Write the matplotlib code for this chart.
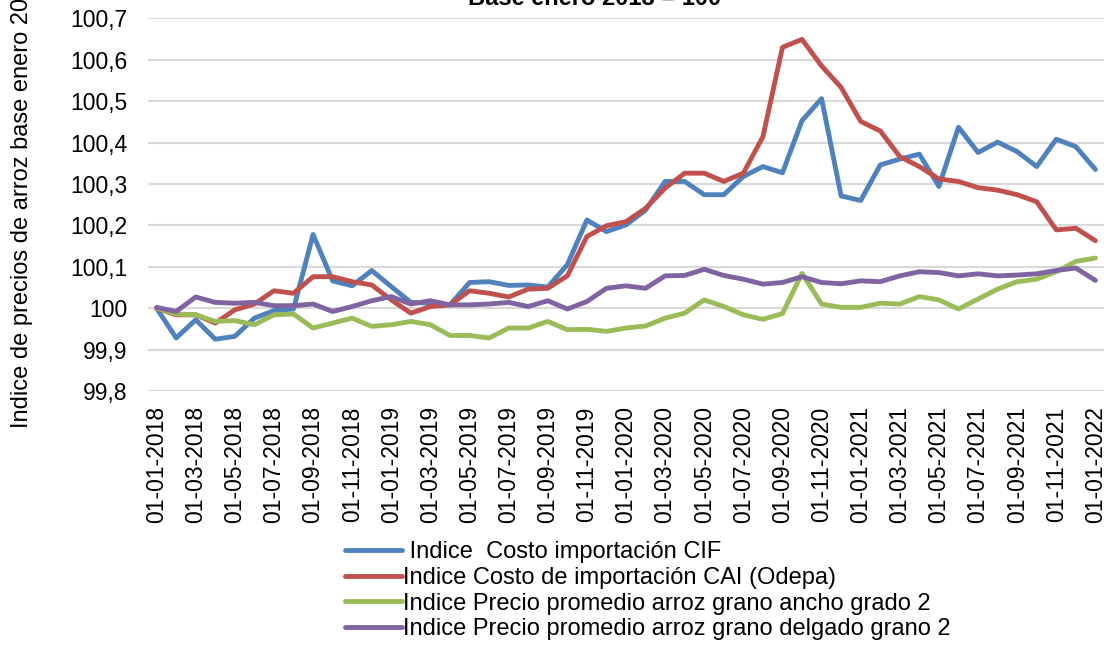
import numpy as np
import matplotlib.pyplot as plt

plt.rcParams['font.family'] = ['Liberation Sans', 'DejaVu Sans']

# monthly dates, Jan 2018 .. Jan 2022
fechas = ["01-%02d-%d" % (m, y) for y in range(2018, 2023) for m in range(1, 13)][:49]

cif = [100.000, 99.928, 99.972, 99.925, 99.932, 99.976, 99.994, 99.998, 100.178, 100.066,
       100.054, 100.091, 100.052, 100.014, 100.012, 100.008, 100.062, 100.064, 100.055, 100.056,
       100.051, 100.105, 100.213, 100.185, 100.201, 100.237, 100.306, 100.306, 100.274, 100.274,
       100.318, 100.342, 100.327, 100.453, 100.506, 100.271, 100.260, 100.346, 100.360, 100.372,
       100.294, 100.437, 100.376, 100.401, 100.378, 100.342, 100.408, 100.390, 100.335]

cai = [100.000, 99.984, 99.984, 99.964, 99.996, 100.010, 100.042, 100.036, 100.076, 100.076,
       100.064, 100.056, 100.020, 99.988, 100.004, 100.008, 100.042, 100.036, 100.027, 100.046,
       100.048, 100.078, 100.173, 100.199, 100.209, 100.241, 100.290, 100.326, 100.326, 100.306,
       100.326, 100.414, 100.630, 100.649, 100.585, 100.533, 100.451, 100.428, 100.366, 100.342,
       100.312, 100.306, 100.291, 100.285, 100.274, 100.257, 100.189, 100.193, 100.163]

ancho = [100.000, 99.986, 99.984, 99.968, 99.970, 99.960, 99.984, 99.986, 99.952, 99.964,
         99.976, 99.956, 99.960, 99.968, 99.960, 99.934, 99.934, 99.928, 99.952, 99.952,
         99.968, 99.948, 99.949, 99.944, 99.952, 99.957, 99.976, 99.988, 100.020, 100.004,
         99.984, 99.973, 99.987, 100.084, 100.010, 100.002, 100.002, 100.012, 100.010, 100.028,
         100.020, 99.998, 100.022, 100.046, 100.064, 100.070, 100.088, 100.113, 100.121]

delgado = [100.002, 99.992, 100.027, 100.014, 100.012, 100.014, 100.006, 100.006, 100.010, 99.992,
           100.004, 100.018, 100.028, 100.010, 100.018, 100.008, 100.008, 100.010, 100.014, 100.004,
           100.018, 99.998, 100.016, 100.048, 100.054, 100.048, 100.078, 100.079, 100.094, 100.079,
           100.070, 100.058, 100.062, 100.076, 100.062, 100.059, 100.066, 100.064, 100.078, 100.088,
           100.086, 100.078, 100.083, 100.078, 100.080, 100.083, 100.091, 100.097, 100.067]

etiquetas = [" Indice  Costo importación CIF",
             "Indice Costo de importación CAI (Odepa)",
             "Indice Precio promedio arroz grano ancho grado 2",
             "Indice Precio promedio arroz grano delgado grano 2"]
colores = ["#4F81BD", "#C0504D", "#9BBB59", "#8064A2"]

W, H = 1108, 648
fig = plt.figure(figsize=(W / 100, H / 100), dpi=100)
ax = fig.add_axes([148 / W, 1 - 391 / H, (1104 - 148) / W, (391 - 18.3) / H])

x = np.arange(len(fechas))
for serie, lab, col in zip([cif, cai, ancho, delgado], etiquetas, colores):
    ax.plot(x, serie, color=col, lw=3.5, label=lab, solid_joinstyle='round', solid_capstyle='round')

ax.set_xlim(-0.44, len(fechas) - 1 + 0.44)
ax.set_ylim(99.8, 100.7)
yt = np.round(np.arange(99.8, 100.71, 0.1), 1)
ax.set_yticks(yt)
ax.set_yticklabels([("%g" % v).replace(".", ",") for v in yt], fontsize=16.5)
ax.set_xticks(x[::2])
ax.set_xticklabels(fechas[::2], rotation=90, fontsize=16.5)
ax.tick_params(axis='y', length=0, pad=15)
ax.tick_params(axis='x', length=0, pad=11)
ax.grid(axis='y', color='#D9D9D9', lw=1.5)
ax.set_axisbelow(True)
for s in ax.spines.values():
    s.set_visible(False)

fig.text(595 / W, 1 - 5 / H, "Base enero 2018 = 100", ha='center', va='baseline',
         fontsize=17, fontweight='bold')
fig.text(22 / W, 1 - 428 / H, "Indice de precios de arroz base enero 2018", rotation=90,
         ha='center', va='bottom', fontsize=17)

fig.legend(loc='upper left', bbox_to_anchor=(345 / W, 1 - 541 / H), frameon=False,
           fontsize=17, handlelength=2.4, handletextpad=0.05, labelspacing=0.16,
           borderpad=0, borderaxespad=0)

fig.savefig("out.png", dpi=100)
